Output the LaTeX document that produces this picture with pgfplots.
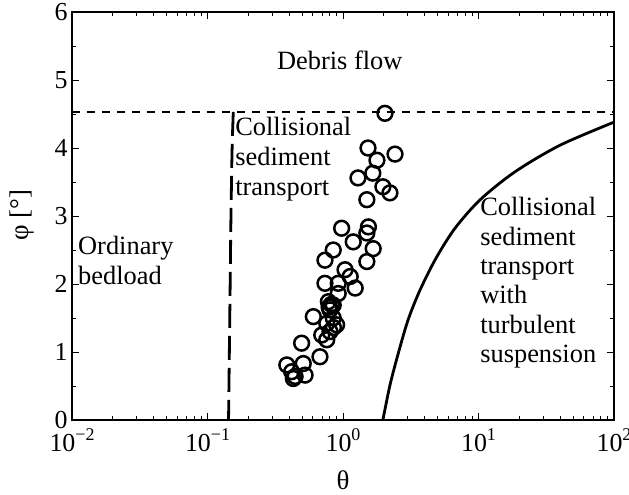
\documentclass[border=0pt]{standalone}
\usepackage{pgfplots}
\pgfplotsset{compat=1.18}
\usepackage{fontspec}
\setmainfont{Liberation Serif}

% Measured data: Shields number and bed slope
\pgfplotstableread{
theta phi
2.04 4.51
1.53 4.00
2.42 3.91
1.78 3.82
1.66 3.63
1.29 3.56
1.97 3.43
2.22 3.34
1.50 3.24
0.977 2.82
1.54 2.84
1.50 2.75
1.19 2.62
1.67 2.52
0.847 2.50
0.736 2.35
1.50 2.33
1.035 2.21
1.13 2.11
0.736 2.01
0.922 2.01
1.23 1.94
0.922 1.86
0.780 1.74
0.847 1.69
0.802 1.62
0.820 1.70
0.790 1.66
0.604 1.52
0.847 1.50
0.759 1.42
0.897 1.40
0.850 1.36
0.697 1.25
0.802 1.30
0.759 1.18
0.495 1.13
0.676 0.93
0.509 0.83
0.385 0.81
0.418 0.71
0.443 0.64
0.525 0.66
0.430 0.61
}\flowdata

\begin{document}
\begin{tikzpicture}[x=1bp,y=1bp]
\begin{axis}[
  at={(0,0)}, anchor=south west,
  scale only axis,
  width=542bp, height=408bp,
  xmode=log,
  xmin=0.01, xmax=100,
  ymin=0, ymax=6,
  xtick={0.01,0.1,1,10,100},
  xticklabels={10\raisebox{0.42em}{\fontsize{18}{18}\selectfont −2},
               10\raisebox{0.42em}{\fontsize{18}{18}\selectfont −1},
               10\raisebox{0.42em}{\fontsize{18}{18}\selectfont 0},
               10\raisebox{0.42em}{\fontsize{18}{18}\selectfont 1},
               10\raisebox{0.42em}{\fontsize{18}{18}\selectfont 2}},
  ytick={0,1,2,3,4,5,6},
  yticklabels={0,1,2,3,4,5,6},
  minor ytick={0.5,1.5,2.5,3.5,4.5,5.5},
  tick align=inside,
  ticks=both,
  xtick pos=both, ytick pos=both,
  major tick length=7bp,
  minor tick length=4bp,
  tick style={black, line width=0.9bp},
  axis line style={black, line width=1.3bp},
  tick label style={font=\fontsize{26}{30}\selectfont},
  xticklabel style={yshift=-5bp},
  yticklabel style={xshift=-1bp},
  clip=false,
]
% boundary between debris flow and sediment transport
\addplot[black, line width=2.4bp, dash pattern=on 8bp off 7bp]
  coordinates {(0.01,4.53) (100,4.53)};
% onset of collisional transport
\addplot[black, line width=2.8bp, dash pattern=on 24bp off 8bp, smooth]
  coordinates {(0.155,4.53) (0.152,4.0) (0.149,3.0) (0.147,2.0) (0.145,1.0) (0.143,0)};
% onset of turbulent suspension
\addplot[black, line width=2.8bp, smooth]
  coordinates {(1.97,0) (2.22,0.51) (2.55,0.97) (3.02,1.47) (3.70,1.91)
               (4.86,2.38) (6.71,2.82) (10.3,3.24) (18.6,3.65) (39.9,4.04) (100,4.38)};
% data
\addplot[only marks, mark=o, mark size=7.4bp,
  mark options={black, line width=2.5bp}]
  table[x=theta, y=phi] {\flowdata};

\node[font=\fontsize{26.5}{30}\selectfont] at (rel axis cs:0.494,0.882) {Debris flow};
\node[font=\fontsize{26.5}{30}\selectfont, anchor=north west, align=left, inner sep=0pt]
  at (rel axis cs:0.301,0.742) {Collisional\\sediment\\transport};
\node[font=\fontsize{26.5}{30}\selectfont, anchor=north west, align=left, inner sep=0pt]
  at (rel axis cs:0.011,0.451) {Ordinary\\bedload};
\node[font=\fontsize{26.5}{29.5}\selectfont, anchor=north west, align=left, inner sep=0pt]
  at (rel axis cs:0.753,0.546) {Collisional\\sediment\\transport\\with\\turbulent\\suspension};

\node[font=\fontsize{27}{30}\selectfont] at ([yshift=-60bp]rel axis cs:0.5,0) {θ};
\node[font=\fontsize{27}{30}\selectfont, rotate=90] at ([xshift=-50bp]rel axis cs:0,0.502) {φ [°]};
\end{axis}
\pgfresetboundingbox
\path[use as bounding box] (-72bp,-75bp) rectangle (557bp,420bp);
\end{tikzpicture}
\end{document}
